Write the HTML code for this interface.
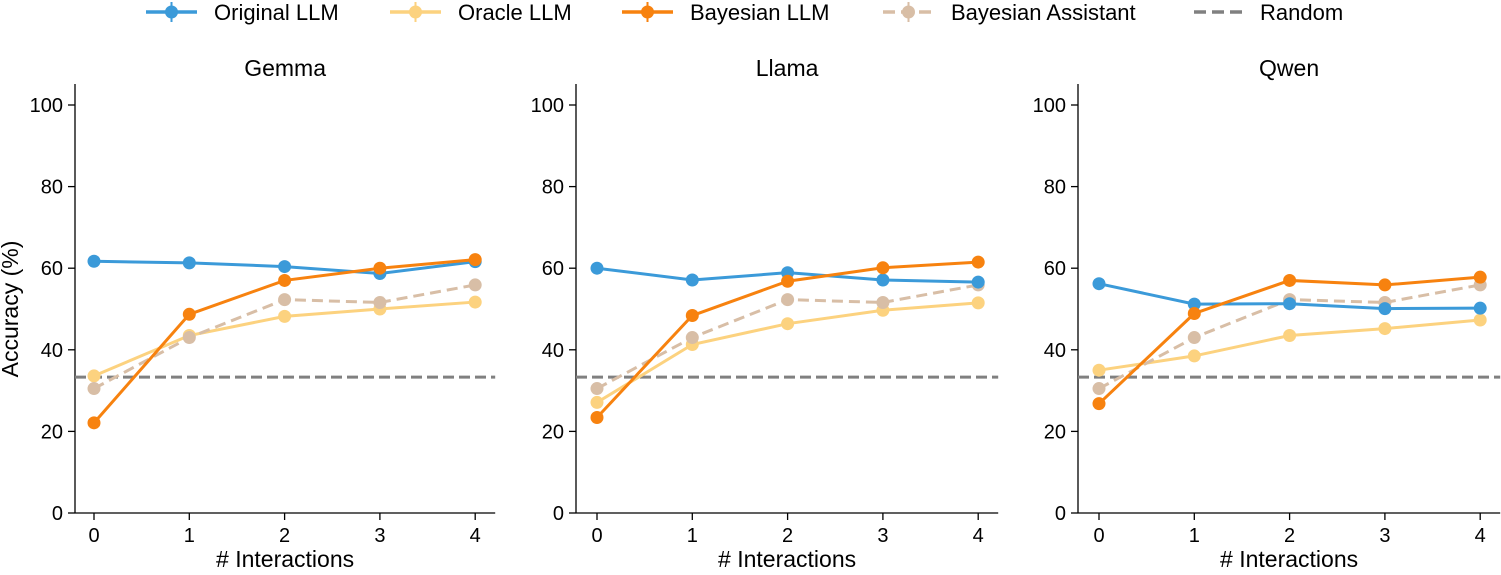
<!DOCTYPE html>
<html><head><meta charset="utf-8"><style>
body{margin:0;background:#fff;}
svg text{font-family:"Liberation Sans",sans-serif;fill:#000;}
</style></head><body>
<svg id="s" width="1501" height="570" xmlns="http://www.w3.org/2000/svg"></svg>
<script>
const S=document.getElementById('s');let h='';
const C={o:'#3b9ad9',r:'#fcd27f',b:'#f7820f',a:'#d8bea6',g:'#808080'};
const leg=[[146,'Original LLM',C.o,0,214],[390,'Oracle LLM',C.r,0,458],[622,'Bayesian LLM',C.b,0,690],[883,'Bayesian Assistant',C.a,1,951],[1194,'Random',C.g,2,1260]];
leg.forEach(([x,t,c,d,tx])=>{
 if(d==2){h+=`<line x1="${x}" y1="12" x2="${x+48}" y2="12" stroke="${c}" stroke-width="3.5" stroke-dasharray="12,6"/>`;}
 else{h+=`<line x1="${x}" y1="12" x2="${x+51}" y2="12" stroke="${c}" stroke-width="3.5" ${d?'stroke-dasharray="12,6"':''}/><line x1="${x+25.5}" y1="2" x2="${x+25.5}" y2="22" stroke="${c}" stroke-width="2"/><circle cx="${x+25.5}" cy="12" r="6.5" fill="${c}"/>`;}
 h+=`<text x="${tx}" y="20" font-size="22">${t}</text>`;
});
const panels=[
 {ax:75,x0:94,t:'Gemma',o:[61.7,61.3,60.4,58.7,61.6],r:[33.6,43.5,48.2,50,51.7],b:[22.1,48.7,57,60,62.1]},
 {ax:576,x0:597,t:'Llama',o:[60,57.1,58.9,57.1,56.6],r:[27.1,41.3,46.4,49.7,51.5],b:[23.4,48.4,56.8,60.1,61.5]},
 {ax:1078,x0:1099,t:'Qwen',o:[56.2,51.2,51.3,50.1,50.2],r:[35,38.5,43.5,45.2,47.3],b:[26.8,48.9,57,55.9,57.8]}];
const A=[30.5,43,52.3,51.6,55.9];
const Y=v=>513-v*4.08, dx=95.3;
panels.forEach(p=>{
 const X=i=>p.x0+i*dx;
 const xe=p.x0+4*dx+20;
 h+=`<line x1="${p.ax}" y1="84" x2="${p.ax}" y2="513" stroke="#000" stroke-width="1.3"/><line x1="${p.ax}" y1="513" x2="${xe}" y2="513" stroke="#000" stroke-width="1.3"/>`;
 for(let v=0;v<=100;v+=20){h+=`<line x1="${p.ax-7}" y1="${Y(v)}" x2="${p.ax}" y2="${Y(v)}" stroke="#000" stroke-width="1.3"/><text x="${p.ax-12}" y="${Y(v)+7}" font-size="20" text-anchor="end">${v}</text>`;}
 for(let i=0;i<5;i++){h+=`<line x1="${X(i)}" y1="513" x2="${X(i)}" y2="520" stroke="#000" stroke-width="1.3"/><text x="${X(i)}" y="542" font-size="20" text-anchor="middle">${i}</text>`;}
 const cx=(p.ax+xe)/2;
 h+=`<text x="${cx}" y="76" font-size="23" text-anchor="middle">${p.t}</text>`;
 h+=`<text x="${cx}" y="567" font-size="23" text-anchor="middle"># Interactions</text>`;
 h+=`<line x1="${p.ax}" y1="${Y(33.3)}" x2="${xe}" y2="${Y(33.3)}" stroke="${C.g}" stroke-width="3" stroke-dasharray="11,5"/>`;
 const ser=(d,c,dash)=>{h+=`<polyline fill="none" stroke="${c}" stroke-width="3" ${dash?'stroke-dasharray="11,6"':''} points="${d.map((v,i)=>X(i)+','+Y(v)).join(' ')}"/>`;d.forEach((v,i)=>h+=`<circle cx="${X(i)}" cy="${Y(v)}" r="6.5" fill="${c}"/>`);};
 ser(p.r,C.r);ser(A,C.a,1);ser(p.o,C.o);ser(p.b,C.b);
});
h+=`<text transform="translate(18,309) rotate(-90)" font-size="23" text-anchor="middle">Accuracy (%)</text>`;
S.innerHTML=h;
</script></body></html>
